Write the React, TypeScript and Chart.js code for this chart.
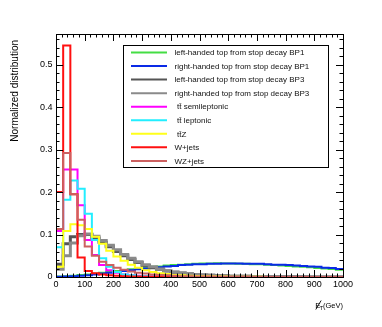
import React, { useEffect, useRef } from "react";
import { Chart, registerables } from "chart.js";

Chart.register(...registerables);

// ---------- data ----------
const binLowEdges = [
  0, 25, 50, 75, 100, 125, 150, 175, 200, 225, 250, 275, 300, 325, 350, 375, 400, 425, 450, 475,
  500, 525, 550, 575, 600, 625, 650, 675, 700, 725, 750, 775, 800, 825, 850, 875, 900, 925, 950, 975,
];
const lastBinHighEdge = 1000;

const legendLabels = [
  "left-handed top from stop decay BP1",
  "right-handed top from stop decay BP1",
  "left-handed top from stop decay BP3",
  "right-handed top from stop decay BP3",
  "tt\u0304 semileptonic",
  "tt\u0304 leptonic",
  "tt\u0304Z",
  "W+jets",
  "WZ+jets",
];

const lhBP1 = [
  0.001, 0.002, 0.003, 0.005, 0.006, 0.008, 0.010, 0.012, 0.014, 0.016,
  0.018, 0.020, 0.022, 0.024, 0.025, 0.027, 0.028, 0.029, 0.030, 0.031,
  0.032, 0.032, 0.0325, 0.032, 0.032, 0.031, 0.031, 0.030, 0.030, 0.029,
  0.028, 0.027, 0.026, 0.025, 0.024, 0.023, 0.021, 0.020, 0.019, 0.017,
];
const rhBP1 = [
  0.0005, 0.001, 0.002, 0.003, 0.004, 0.006, 0.008, 0.010, 0.012, 0.014,
  0.016, 0.018, 0.020, 0.022, 0.023, 0.025, 0.026, 0.028, 0.029, 0.030,
  0.030, 0.031, 0.031, 0.032, 0.032, 0.032, 0.031, 0.031, 0.031, 0.030,
  0.029, 0.029, 0.028, 0.027, 0.026, 0.025, 0.024, 0.022, 0.021, 0.019,
];
const lhBP3 = [
  0.030, 0.078, 0.095, 0.100, 0.100, 0.092, 0.082, 0.071, 0.060, 0.050,
  0.041, 0.034, 0.027, 0.022, 0.018, 0.014, 0.011, 0.009, 0.007, 0.006,
  0.005, 0.004, 0.003, 0.003, 0.002, 0.002, 0.0015, 0.001, 0.001, 0.0008,
  0.0006, 0.0005, 0.0004, 0.0003, 0.0003, 0.0002, 0.0002, 0.0001, 0.0001, 0.0001,
];
const rhBP3 = [
  0.018, 0.050, 0.080, 0.097, 0.101, 0.096, 0.086, 0.075, 0.064, 0.053,
  0.044, 0.036, 0.029, 0.024, 0.019, 0.015, 0.012, 0.010, 0.008, 0.006,
  0.005, 0.004, 0.003, 0.003, 0.002, 0.002, 0.0015, 0.001, 0.001, 0.0008,
  0.0006, 0.0005, 0.0004, 0.0003, 0.0003, 0.0002, 0.0002, 0.0001, 0.0001, 0.0001,
];
const ttSemileptonic = [
  0.108, 0.253, 0.253, 0.169, 0.087, 0.052, 0.028, 0.016, 0.010, 0.006,
  0.004, 0.003, 0.002, 0.0015, 0.001, 0.001, 0.0007, 0.0005, 0.0004, 0.0003,
  0.0002, 0.0002, 0.0001, 0.0001, 0.0001, 0, 0, 0, 0, 0,
  0, 0, 0, 0, 0, 0, 0, 0, 0, 0,
];
const ttLeptonic = [
  0.070, 0.182, 0.227, 0.208, 0.149, 0.087, 0.044, 0.024, 0.012, 0.006,
  0.004, 0.002, 0.0015, 0.001, 0.001, 0.0007, 0.0005, 0.0004, 0.0003, 0.0002,
  0.0002, 0.0001, 0.0001, 0.0001, 0, 0, 0, 0, 0, 0,
  0, 0, 0, 0, 0, 0, 0, 0, 0, 0,
];
const ttZ = [
  0.024, 0.108, 0.124, 0.122, 0.113, 0.095, 0.078, 0.062, 0.048, 0.038,
  0.029, 0.022, 0.016, 0.012, 0.009, 0.007, 0.005, 0.004, 0.003, 0.0025,
  0.002, 0.0015, 0.001, 0.001, 0.0008, 0.0006, 0.0005, 0.0004, 0.0003, 0.0002,
  0.0002, 0.0001, 0.0001, 0.0001, 0, 0, 0, 0, 0, 0,
];
const wJets = [
  0.200, 0.545, 0.195, 0.046, 0.014, 0.009, 0.006, 0.004, 0.003, 0.002,
  0.001, 0.001, 0.0005, 0.0004, 0.0003, 0.0002, 0.0001, 0.0001, 0, 0,
  0, 0, 0, 0, 0, 0, 0, 0, 0, 0,
  0, 0, 0, 0, 0, 0, 0, 0, 0, 0,
];
const wzJets = [
  0.113, 0.292, 0.195, 0.135, 0.072, 0.050, 0.036, 0.028, 0.022, 0.017,
  0.013, 0.010, 0.008, 0.006, 0.005, 0.004, 0.003, 0.002, 0.002, 0.001,
  0.001, 0.001, 0.0008, 0.0006, 0.0005, 0.0004, 0.0003, 0.0002, 0.0002, 0.0001,
  0.0001, 0.0001, 0, 0, 0, 0, 0, 0, 0, 0,
];

const seriesValues = [lhBP1, rhBP1, lhBP3, rhBP3, ttSemileptonic, ttLeptonic, ttZ, wJets, wzJets];
const seriesColors = [
  "#44dd44", "#0a2ae6", "#555555", "#8a8a8a", "#ff00ff", "#22eeff", "#ffff1a", "#ff1010", "#cc6060",
];
const seriesWidths = [2, 2, 3, 3, 2, 2, 2, 2, 2];

const xMin = 0;
const xMax = 1000;
const yMin = 0;
const yMax = 0.572;
const yAxisTitle = "Normalized distribution";

const FONT = "'Liberation Sans', Arial, Helvetica, sans-serif";

// ---------- plugins ----------
const rootFramePlugin = {
  id: "rootFrame",
  afterDatasetsDraw(chart: any) {
    const { ctx, chartArea } = chart;
    const { left, right, top, bottom } = chartArea;
    const xs = chart.scales.x;
    const ys = chart.scales.y;
    ctx.save();
    ctx.strokeStyle = "#000";
    ctx.lineWidth = 1;
    ctx.beginPath();
    for (let i = 0; i <= 50; i++) {
      const v = xMin + i * 20;
      const px = Math.round(xs.getPixelForValue(v)) + 0.5;
      const len = i % 5 === 0 ? 7 : 3.5;
      ctx.moveTo(px, bottom);
      ctx.lineTo(px, bottom - len);
      ctx.moveTo(px, top);
      ctx.lineTo(px, top + len);
    }
    for (let i = 0; i * 0.02 <= yMax; i++) {
      const v = i * 0.02;
      const py = Math.round(ys.getPixelForValue(v)) + 0.5;
      const len = i % 5 === 0 ? 7 : 3.5;
      ctx.moveTo(left, py);
      ctx.lineTo(left + len, py);
      ctx.moveTo(right, py);
      ctx.lineTo(right - len, py);
    }
    ctx.stroke();
    ctx.strokeRect(Math.round(left) + 0.5, Math.round(top) + 0.5, Math.round(right - left), Math.round(bottom - top));
    ctx.restore();
  },
  afterDraw(chart: any) {
    const { ctx, chartArea } = chart;
    ctx.save();
    // y-axis title
    ctx.fillStyle = "#000";
    ctx.font = `10px ${FONT}`;
    ctx.translate(15, chartArea.top + 6);
    ctx.rotate(-Math.PI / 2);
    ctx.textAlign = "right";
    ctx.textBaseline = "middle";
    ctx.fillText(yAxisTitle, 0, 0);
    ctx.restore();

    // x-axis title: missing E_T (GeV)
    ctx.save();
    ctx.fillStyle = "#000";
    ctx.strokeStyle = "#000";
    const xEnd = chartArea.right;
    const base = 308;
    ctx.textBaseline = "alphabetic";
    ctx.textAlign = "left";
    ctx.font = `7.5px ${FONT}`;
    const unit = "(GeV)";
    const wUnit = ctx.measureText(unit).width;
    ctx.font = `5.5px ${FONT}`;
    const wT = ctx.measureText("T").width;
    ctx.font = `8px ${FONT}`;
    const wE = ctx.measureText("E").width;
    const xE = xEnd - wUnit - wT - wE + 1;
    ctx.fillText("E", xE, base);
    ctx.lineWidth = 0.9;
    ctx.beginPath();
    ctx.moveTo(xE + 0.5, base + 1.5);
    ctx.lineTo(xE + wE + 0.5, base - 7.5);
    ctx.stroke();
    ctx.font = `5.5px ${FONT}`;
    ctx.fillText("T", xE + wE - 1, base + 1.5);
    ctx.font = `7.5px ${FONT}`;
    ctx.fillText(unit, xEnd - wUnit, base);
    ctx.restore();

    // legend
    const bx = 123.5;
    const by = 45.5;
    const bw = 205;
    const bh = 122;
    ctx.save();
    ctx.fillStyle = "#fff";
    ctx.fillRect(bx, by, bw, bh);
    ctx.strokeStyle = "#000";
    ctx.lineWidth = 1;
    ctx.strokeRect(bx, by, bw, bh);
    ctx.font = `8px ${FONT}`;
    ctx.textBaseline = "middle";
    ctx.textAlign = "left";
    chart.data.datasets.forEach((ds: any, i: number) => {
      const yy = 52.5 + i * 13.55;
      ctx.strokeStyle = ds.borderColor;
      ctx.lineWidth = 2;
      ctx.beginPath();
      ctx.moveTo(131, yy);
      ctx.lineTo(167, yy);
      ctx.stroke();
      ctx.fillStyle = "#111";
      const indent = ds.label.startsWith("tt") ? 2.5 : 0;
      ctx.fillText(ds.label, 174.5 + indent, yy + 0.5);
    });
    ctx.restore();
  },
};

export default function App() {
  const canvasRef = useRef<HTMLCanvasElement | null>(null);

  useEffect(() => {
    document.body.style.margin = "0";
    const canvas = canvasRef.current;
    if (!canvas) return;

    const datasets = seriesValues.map((vals, i) => {
      const pts = binLowEdges.map((x, j) => ({ x, y: vals[j] }));
      pts.push({ x: lastBinHighEdge, y: vals[vals.length - 1] });
      return {
        label: legendLabels[i],
        data: pts,
        borderColor: seriesColors[i],
        backgroundColor: seriesColors[i],
        borderWidth: seriesWidths[i],
        pointRadius: 0,
        fill: false,
        stepped: "before" as const,
        order: seriesValues.length - i,
      };
    });

    const chart = new Chart(canvas, {
      type: "line",
      data: { datasets },
      options: {
        animation: false,
        responsive: false,
        maintainAspectRatio: false,
        events: [],
        layout: { padding: { top: 34, right: 39, left: 0, bottom: 0 } },
        plugins: {
          legend: { display: false },
          tooltip: { enabled: false },
          title: { display: false },
        },
        scales: {
          x: {
            type: "linear",
            min: xMin,
            max: xMax,
            afterFit: (s: any) => {
              s.height = 50;
            },
            grid: { display: false, drawTicks: false },
            border: { display: false },
            ticks: {
              stepSize: 100,
              autoSkip: false,
              maxRotation: 0,
              padding: 2,
              color: "#000",
              font: { family: FONT, size: 9 },
              callback: (v: any) => String(v),
            },
          },
          y: {
            type: "linear",
            min: yMin,
            max: yMax,
            afterFit: (s: any) => {
              s.width = 56;
            },
            grid: { display: false, drawTicks: false },
            border: { display: false },
            ticks: {
              stepSize: 0.1,
              includeBounds: false,
              autoSkip: false,
              padding: 3.5,
              color: "#000",
              font: { family: FONT, size: 9 },
              callback: (v: any) => String(Math.round(Number(v) * 10) / 10),
            },
          },
        },
      },
      plugins: [rootFramePlugin],
    });

    return () => chart.destroy();
  }, []);

  return (
    <div style={{ width: 382, height: 327, background: "#fff" }}>
      <canvas ref={canvasRef} width={382} height={327} style={{ width: 382, height: 327, display: "block" }} />
    </div>
  );
}
